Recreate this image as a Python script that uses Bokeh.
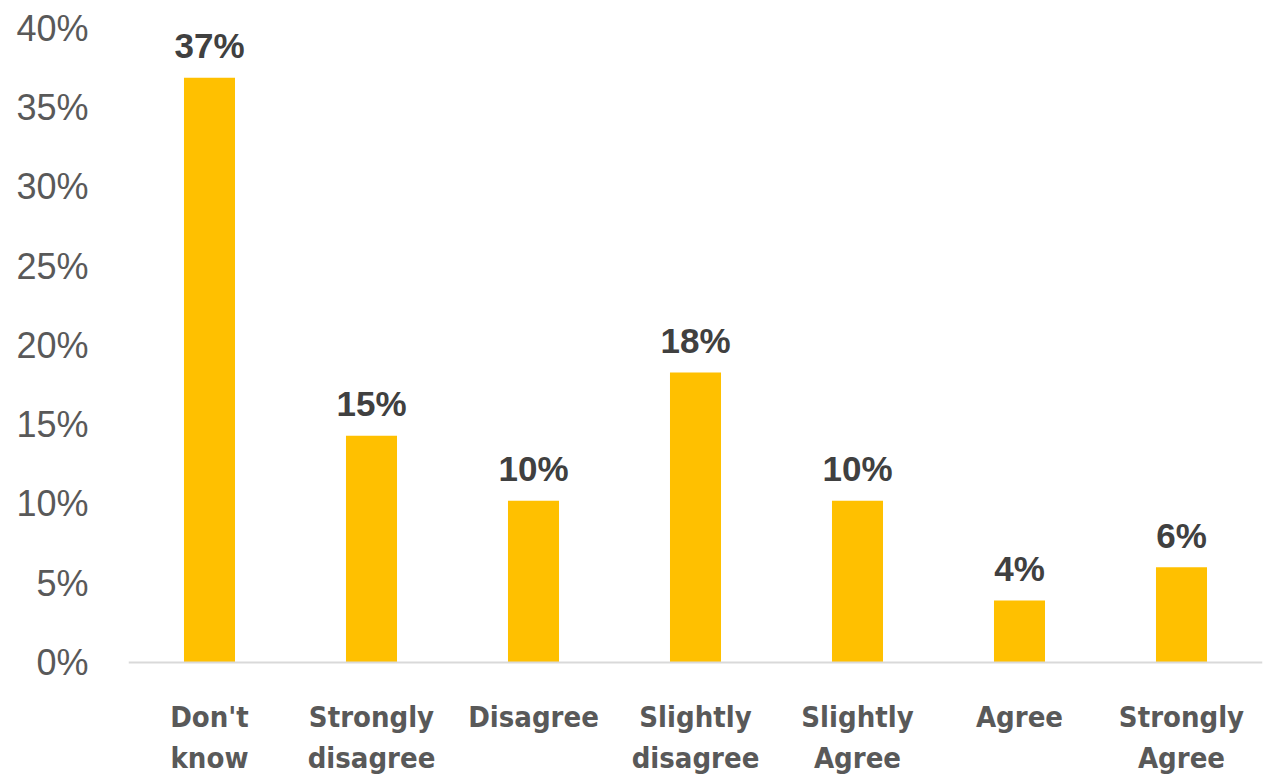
from bokeh.plotting import figure
from bokeh.models import ColumnDataSource, FixedTicker, Span
from bokeh.core.properties import value
from bokeh.embed import file_html
from bokeh.resources import INLINE

categories = ["Don't know", "Strongly disagree", "Disagree", "Slightly disagree",
              "Slightly Agree", "Agree", "Strongly Agree"]
label_line1 = ["Don't", "Strongly", "Disagree", "Slightly", "Slightly", "Agree", "Strongly"]
label_line2 = ["know", "disagree", "", "disagree", "Agree", "", "Agree"]
values = [36.9, 14.3, 10.2, 18.3, 10.2, 3.9, 6.0]
value_labels = ["37%", "15%", "10%", "18%", "10%", "4%", "6%"]
y_ticks = [0, 5, 10, 15, 20, 25, 30, 35, 40]

src = ColumnDataSource(dict(cat=categories, val=values, lab=value_labels,
                            l1=label_line1, l2=label_line2, zero=[0] * len(categories)))

# frame extends below zero so category labels can be drawn as text glyphs
p = figure(x_range=categories, y_range=(-7.45, 40), width=1263, height=780,
           output_backend="svg", toolbar_location=None,
           min_border_left=128, min_border_right=1, min_border_top=28, min_border_bottom=0)
p.outline_line_color = None
p.grid.grid_line_color = None
p.background_fill_color = "white"

p.add_layout(Span(location=0, dimension="width", line_color="#d9d9d9", line_width=2))

p.vbar(x="cat", top="val", width=0.315, source=src, fill_color="#FFC000", line_color=None)
p.text(x="cat", y="val", text="lab", source=src, text_align="center", text_baseline="middle",
       y_offset=-32, text_font=value("Liberation Sans"), text_font_style="bold",
       text_font_size="35px", text_color="#404040")

for col, off in (("l1", 55), ("l2", 96)):
    p.text(x="cat", y="zero", text=col, source=src, text_align="center", text_baseline="middle",
           y_offset=off, text_font=value("DejaVu Sans Condensed"), text_font_style="bold",
           text_font_size="29px", text_color="#595959")

ya = p.yaxis[0]
ya.ticker = FixedTicker(ticks=y_ticks)
ya.major_label_overrides = {t: f"{t}%" for t in y_ticks}
ya.axis_line_color = None
ya.major_tick_line_color = None
ya.minor_tick_line_color = None
ya.major_label_text_font = "Liberation Sans"
ya.major_label_text_font_size = "36px"
ya.major_label_text_color = "#595959"
ya.major_label_standoff = 34

p.xaxis.visible = False

open("out.html", "w").write(file_html(p, INLINE))
